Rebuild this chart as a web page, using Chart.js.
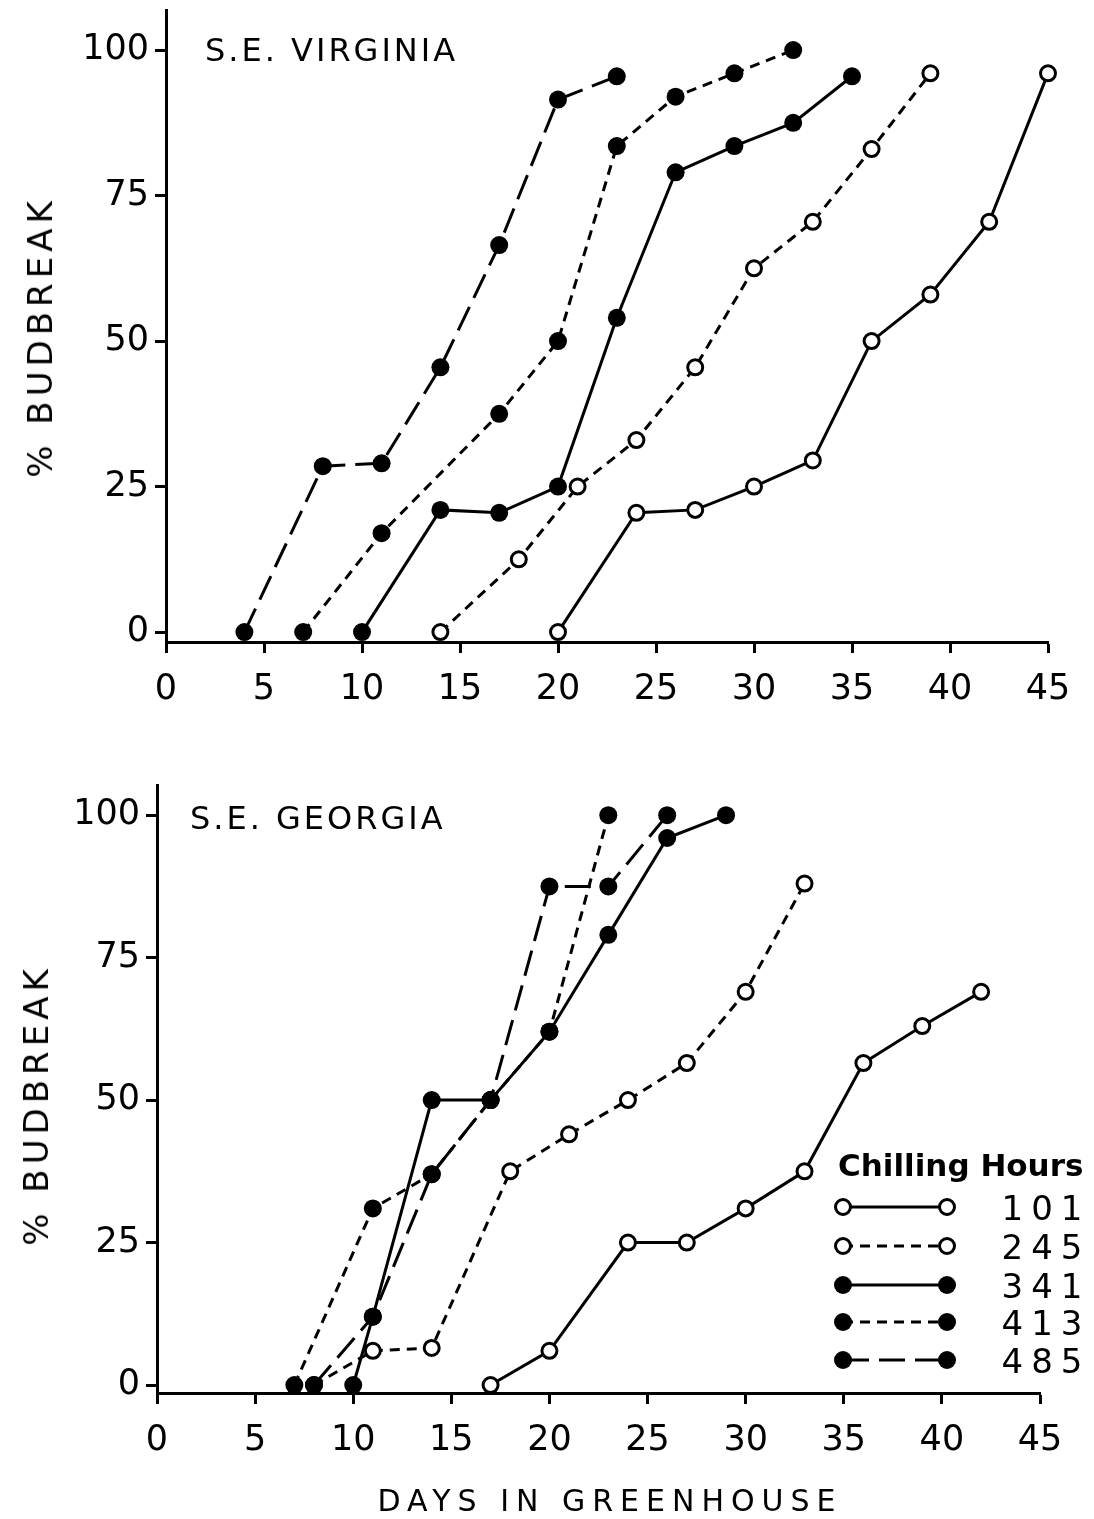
<!DOCTYPE html>
<html>
<head>
<meta charset="utf-8">
<title>Budbreak vs days in greenhouse</title>
<script src="https://cdn.jsdelivr.net/npm/chart.js@4.4.1/dist/chart.umd.min.js"></script>
<style>
  body { margin: 0; background: #fff; }
  #page { position: relative; width: 1094px; height: 1519px; overflow: hidden;
          font-family: "DejaVu Sans", sans-serif; color: #000; }
  .box { position: absolute; left: 0; width: 1094px; }
  .lbl { position: absolute; white-space: nowrap; line-height: 1; }
  .panel { font-size: 32px; letter-spacing: 3px; }
  .ytitle { font-size: 34px; letter-spacing: 5px; transform: translate(-50%, -50%) rotate(-90deg); }
  .xtitle { font-size: 30px; letter-spacing: 7px; transform: translateX(-50%); }
  .legtitle { font-size: 31px; font-weight: bold; }
  .legnum { font-size: 34px; letter-spacing: 8px; transform: translateX(-50%); }
</style>
</head>
<body>
<div id="page">
  <div class="box" style="top:0;height:745px"><canvas id="vaChart"></canvas></div>
  <div class="box" style="top:760px;height:759px"><canvas id="gaChart"></canvas></div>

  <div class="lbl panel" style="left:205px;top:34px">S.E. VIRGINIA</div>
  <div class="lbl panel" style="left:190px;top:802px">S.E. GEORGIA</div>
  <div class="lbl ytitle" style="left:40px;top:337px">% BUDBREAK</div>
  <div class="lbl ytitle" style="left:36px;top:1105px">% BUDBREAK</div>
  <div class="lbl xtitle" style="left:610px;top:1486px">DAYS IN GREENHOUSE</div>

  <div class="lbl legtitle" style="left:838px;top:1150px">Chilling Hours</div>
  <div id="legendNums"></div>
</div>

<script>
// chilling hour groups (legend order)
const chillingHours = ["101", "245", "341", "413", "485"];
const xTicks = [0, 5, 10, 15, 20, 25, 30, 35, 40, 45];
const yTicks = [0, 25, 50, 75, 100];

// S.E. Virginia
const vaDays101 = [20, 24, 27, 30, 33, 36, 39, 42, 45];
const vaBud101  = [0, 20.5, 21, 25, 29.5, 50, 58, 70.5, 96];
const vaDays245 = [14, 18, 21, 24, 27, 30, 33, 36, 39];
const vaBud245  = [0, 12.5, 25, 33, 45.5, 62.5, 70.5, 83, 96];
const vaDays341 = [10, 14, 17, 20, 23, 26, 29, 32, 35];
const vaBud341  = [0, 21, 20.5, 25, 54, 79, 83.5, 87.5, 95.5];
const vaDays413 = [7, 11, 17, 20, 23, 26, 29, 32];
const vaBud413  = [0, 17, 37.5, 50, 83.5, 92, 96, 100];
const vaDays485 = [4, 8, 11, 14, 17, 20, 23];
const vaBud485  = [0, 28.5, 29, 45.5, 66.5, 91.5, 95.5];

// S.E. Georgia
const gaDays101 = [17, 20, 24, 27, 30, 33, 36, 39, 42];
const gaBud101  = [0, 6, 25, 25, 31, 37.5, 56.5, 63, 69];
const gaDays245 = [8, 11, 14, 18, 21, 24, 27, 30, 33];
const gaBud245  = [0, 6, 6.5, 37.5, 44, 50, 56.5, 69, 88];
const gaDays341 = [10, 11, 14, 17, 20, 23, 26, 29];
const gaBud341  = [0, 12, 50, 50, 62, 79, 96, 100];
const gaDays413 = [7, 11, 14, 17, 20, 23];
const gaBud413  = [0, 31, 37, 50, 62, 100];
const gaDays485 = [8, 11, 14, 17, 20, 23, 26];
const gaBud485  = [0, 12, 37, 50, 87.5, 87.5, 100];

const seriesStyle = {
  "101": { open: true,  dash: [] },
  "245": { open: true,  dash: [10, 7] },
  "341": { open: false, dash: [] },
  "413": { open: false, dash: [10, 7] },
  "485": { open: false, dash: [26, 10] },
};

const FONT = "DejaVu Sans";

function makeDatasets(daysList, budList) {
  return chillingHours.map((hours, i) => {
    const st = seriesStyle[hours];
    return {
      label: hours,
      data: daysList[i].map((d, j) => ({ x: d, y: budList[i][j] })),
      order: st.open ? 1 : 0, // filled dots sit on top
      borderColor: "#000",
      borderWidth: 3,
      borderDash: st.dash,
      tension: 0,
      fill: false,
      clip: false,
      pointRadius: st.open ? 7.5 : 9,
      pointBorderWidth: st.open ? 3 : 0,
      pointBorderColor: "#000",
      pointBackgroundColor: st.open ? "#fff" : "#000",
    };
  });
}

function makeOptions(o) {
  return {
    responsive: true,
    maintainAspectRatio: false,
    animation: false,
    layout: { padding: { left: 0, right: o.right, top: o.top, bottom: 0 } },
    plugins: { legend: { display: false }, tooltip: { enabled: false } },
    scales: {
      x: {
        type: "linear",
        min: 0,
        max: 45,
        afterFit: (s) => { s.height = o.xHeight; s.paddingLeft = 0; s.paddingRight = 0; },
        afterBuildTicks: (s) => { s.ticks = xTicks.map((v) => ({ value: v })); },
        border: { display: true, color: "#000", width: 3 },
        grid: { drawOnChartArea: false, drawTicks: true, tickLength: 11, tickWidth: 3, tickColor: "#000" },
        ticks: { color: "#000", font: { family: FONT, size: 35 }, padding: 16, maxRotation: 0, autoSkip: false },
      },
      y: {
        type: "linear",
        min: o.yMin,
        max: o.yMax,
        afterFit: (s) => { s.width = o.yWidth; s.paddingTop = 0; s.paddingBottom = 0; },
        afterBuildTicks: (s) => { s.ticks = yTicks.map((v) => ({ value: v })); },
        border: { display: true, color: "#000", width: 3 },
        grid: { drawOnChartArea: false, drawTicks: true, tickLength: 11, tickWidth: 3, tickColor: "#000" },
        ticks: { color: "#000", font: { family: FONT, size: 35 }, padding: 6 },
      },
    },
  };
}

// legend line samples (text is in the page)
const legendSamples = {
  id: "legendSamples",
  afterDraw(chart) {
    const ctx = chart.ctx;
    const x0 = 843, x1 = 947;
    const rowY = [447, 486, 525, 562, 600];
    chart.data.datasets.forEach((ds, i) => {
      const y = rowY[i];
      ctx.save();
      ctx.strokeStyle = "#000";
      ctx.lineWidth = 3;
      ctx.setLineDash(ds.borderDash);
      ctx.beginPath();
      ctx.moveTo(x0, y);
      ctx.lineTo(x1, y);
      ctx.stroke();
      ctx.setLineDash([]);
      [x0, x1].forEach((x) => {
        ctx.beginPath();
        ctx.arc(x, y, ds.pointRadius, 0, Math.PI * 2);
        ctx.fillStyle = ds.pointBackgroundColor;
        ctx.fill();
        if (ds.pointBorderWidth > 0) {
          ctx.lineWidth = ds.pointBorderWidth;
          ctx.stroke();
        }
      });
      ctx.restore();
    });
  },
};

new Chart(document.getElementById("vaChart"), {
  type: "line",
  data: {
    datasets: makeDatasets(
      [vaDays101, vaDays245, vaDays341, vaDays413, vaDays485],
      [vaBud101, vaBud245, vaBud341, vaBud413, vaBud485]
    ),
  },
  options: makeOptions({ right: 46, top: 8, xHeight: 103, yWidth: 166, yMin: -1.7, yMax: 106.8 }),
});

new Chart(document.getElementById("gaChart"), {
  type: "line",
  data: {
    datasets: makeDatasets(
      [gaDays101, gaDays245, gaDays341, gaDays413, gaDays485],
      [gaBud101, gaBud245, gaBud341, gaBud413, gaBud485]
    ),
  },
  options: makeOptions({ right: 54, top: 25, xHeight: 126, yWidth: 157, yMin: -1.4, yMax: 105.3 }),
  plugins: [legendSamples],
});

// legend numbers
const legendRowsPage = [1207, 1246, 1285, 1322, 1360];
const legendNums = document.getElementById("legendNums");
chillingHours.forEach((hours, i) => {
  const d = document.createElement("div");
  d.className = "lbl legnum";
  d.style.left = "1046px";
  d.style.top = (legendRowsPage[i] - 16) + "px";
  d.textContent = hours;
  legendNums.appendChild(d);
});
</script>
</body>
</html>
